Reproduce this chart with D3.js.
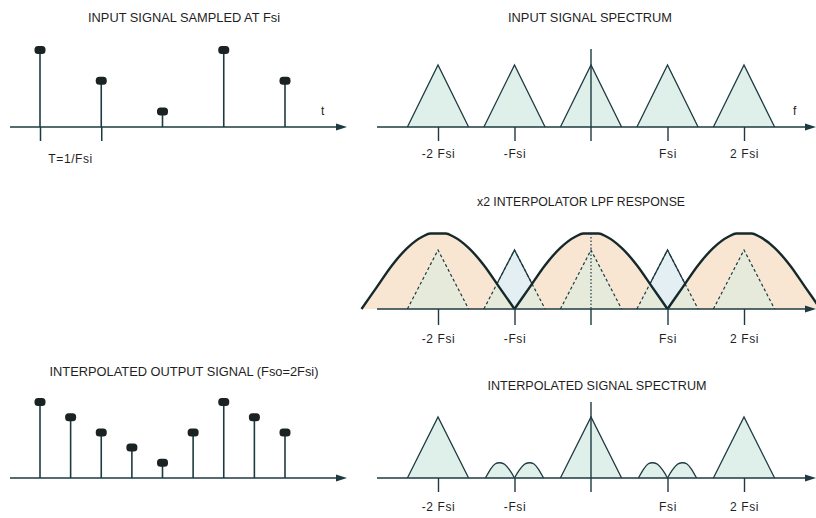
<!DOCTYPE html>
<html><head><meta charset="utf-8">
<script src="https://cdn.jsdelivr.net/npm/d3@7"></script>
<style>
html,body{margin:0;padding:0;background:#fff;}
svg{display:block;}
text{font-family:"Liberation Sans",Arial,sans-serif;fill:#1f1f1f;}
</style></head><body>
<svg id="chart" width="816" height="518"></svg>
<script>
// ---------------- data ----------------
const inputSamples  = [5, 3, 1, 5, 3];               // sampled at Fsi
const outputSamples = [5, 4, 3, 2, 1, 3, 5, 4, 3];   // x2 interpolated (Fso = 2Fsi)
const periodTicks   = [0, 1];                        // sample indices marking T
const spectrumCenters = [-2, -1, 0, 1, 2];           // spectral images, Fsi units
const passedCenters   = [-2, 0, 2];                  // images kept after x2 LPF
const rejectedCenters = [-1, 1];                     // images attenuated by LPF
const bandEdge = 0.4;                                // baseband half-width, Fsi units
const lpfCenters = [-2, 0, 2];
const lpfLobe = [[-1,0],[-0.8,0.29],[-0.6,0.58],[-0.4,0.81],[-0.2,0.96],[-0.1,1],
                 [0.1,1],[0.2,0.96],[0.4,0.81],[0.6,0.58],[0.8,0.29],[1,0]];
const lpfGain = 1.28;
const residualLeft  = [[-0.38,0],[-0.31,0.6],[-0.25,0.93],[-0.19,1],[-0.13,0.9],[-0.06,0.5],[0,0]];
const residualRight = [[0,0],[0.06,0.5],[0.13,0.9],[0.19,1],[0.25,0.93],[0.31,0.6],[0.38,0]];
const residualGain = 0.25;
const freqTicks = [-2, -1, 1, 2];
const freqTickLabels = ["-2 Fsi", "-Fsi", "Fsi", "2 Fsi"];
const titles = ["INPUT SIGNAL SAMPLED AT Fsi", "INPUT SIGNAL SPECTRUM",
                "x2 INTERPOLATOR LPF RESPONSE", "INTERPOLATED OUTPUT SIGNAL (Fso=2Fsi)",
                "INTERPOLATED SIGNAL SPECTRUM"];
const timeLabel = "t", freqLabel = "f", periodLabel = "T=1/Fsi";

// ---------------- layout / style ----------------
const INK = "#1d3a41", MARK = "#1b2224";
const TRI_FILL = "#dff0ea", BLUE_FILL = "#e3eff3", OVER_FILL = "#e6eadb", LPF_FILL = "#f8e5d2";
const svg = d3.select("#chart");

const xT = d3.scaleLinear().domain([0, 4]).range([40, 285]);
const yT1 = d3.scaleLinear().domain([0, 5]).range([127, 50]);
const yT2 = d3.scaleLinear().domain([0, 5]).range([478, 402]);
const xF = d3.scaleLinear().domain([-3, 3]).range([361.5, 820.5]);
const yF1 = d3.scaleLinear().domain([0, 1]).range([127, 65]);
const yF2 = d3.scaleLinear().domain([0, 1]).range([309, 250]);
const yF3 = d3.scaleLinear().domain([0, 1]).range([478, 417]);

const titleLayout = [[184,22,192],[590,22,164],[581,206,208],[184,376,269],[597,390,219]];
titles.forEach((t, i) => {
  const [x, y, w] = titleLayout[i];
  svg.append("text").attr("x", x).attr("y", y).attr("text-anchor", "middle")
    .attr("font-size", 13.5).attr("textLength", w).attr("lengthAdjust", "spacingAndGlyphs")
    .text(t);
});

function arrowAxis(x0, x1, y) {
  svg.append("line").attr("x1", x0).attr("x2", x1 - 9).attr("y1", y).attr("y2", y)
    .attr("stroke", INK).attr("stroke-width", 1.5);
  svg.append("path").attr("d", `M${x1-11},${y-3.5}L${x1},${y}L${x1-11},${y+3.5}Z`).attr("fill", INK);
}

function stems(data, xOf, y) {
  const g = svg.append("g");
  g.selectAll("line").data(data).join("line")
    .attr("x1", (d, i) => xOf(i)).attr("x2", (d, i) => xOf(i))
    .attr("y1", y(0)).attr("y2", d => y(d))
    .attr("stroke", INK).attr("stroke-width", 1.6);
  g.selectAll("rect").data(data).join("rect")
    .attr("x", (d, i) => xOf(i) - 5.5).attr("y", d => y(d) - 4)
    .attr("width", 11).attr("height", 8).attr("rx", 3.5)
    .attr("fill", MARK);
}

function freqAxis(y, tickLen, pad) {
  const ax = d3.axisBottom(xF).tickValues(freqTicks)
    .tickFormat((d, i) => freqTickLabels[i]).tickSize(tickLen).tickPadding(pad);
  const g = svg.append("g").attr("transform", `translate(0,${y})`).call(ax);
  g.select(".domain").remove();
  g.selectAll(".tick line").attr("stroke", INK).attr("stroke-width", 1.4);
  g.selectAll(".tick text").attr("font-size", 12).attr("letter-spacing", 0.6)
    .attr("fill", "#1f1f1f").attr("font-family", "Liberation Sans, Arial, sans-serif");
}

const tri = (y) => d3.line().x(d => xF(d[0])).y(d => y(d[1]));
const triPts = c => [[c - bandEdge, 0], [c, 1], [c + bandEdge, 0]];

// ---------- panel 1: input samples ----------
arrowAxis(10, 347, yT1(0));
{
  const ax = d3.axisBottom(xT).tickValues(periodTicks).tickFormat("").tickSize(14);
  const g = svg.append("g").attr("transform", `translate(0,${yT1(0)})`).call(ax);
  g.select(".domain").remove();
  g.selectAll(".tick line").attr("stroke", INK).attr("stroke-width", 1.5);
}
stems(inputSamples, i => xT(i), yT1);
svg.append("text").attr("x", xT(0.5)).attr("y", 163).attr("text-anchor", "middle")
  .attr("font-size", 12).attr("letter-spacing", 0.6).text(periodLabel);
svg.append("text").attr("x", 321).attr("y", 115).attr("font-size", 12).text(timeLabel);

// ---------- panel 2: input spectrum ----------
svg.append("g").selectAll("path").data(spectrumCenters).join("path")
  .attr("d", c => tri(yF1)(triPts(c)))
  .attr("fill", TRI_FILL).attr("stroke", INK).attr("stroke-width", 1.3).attr("stroke-linejoin", "miter");
arrowAxis(377, 816, yF1(0));
svg.append("line").attr("x1", xF(0)).attr("x2", xF(0)).attr("y1", 49).attr("y2", 141)
  .attr("stroke", INK).attr("stroke-width", 1.4);
freqAxis(yF1(0), 14, 8);
svg.append("text").attr("x", 793).attr("y", 115).attr("font-size", 12).text(freqLabel);

// ---------- panel 3: LPF response ----------
const lobeArea = c => d3.area().curve(d3.curveMonotoneX)
  .x(d => xF(c + d[0])).y0(yF2(0)).y1(d => yF2(lpfGain * d[1]))(lpfLobe);
const lobeLine = c => d3.line().curve(d3.curveMonotoneX)
  .x(d => xF(c + d[0])).y(d => yF2(lpfGain * d[1]))(lpfLobe);

const defs = svg.append("defs");
const clipIn = defs.append("clipPath").attr("id", "insideLpf");
lpfCenters.forEach(c => clipIn.append("path").attr("d", lobeArea(c)));
const mask = defs.append("mask").attr("id", "outsideLpf").attr("maskUnits", "userSpaceOnUse")
  .attr("x", 0).attr("y", 0).attr("width", 816).attr("height", 518);
mask.append("rect").attr("width", 816).attr("height", 518).attr("fill", "#fff");
lpfCenters.forEach(c => mask.append("path").attr("d", lobeArea(c)).attr("fill", "#000"));

const p3 = svg.append("g");
p3.selectAll("path.lobe").data(lpfCenters).join("path").attr("class", "lobe")
  .attr("d", lobeArea).attr("fill", LPF_FILL);
p3.append("g").selectAll("path").data(spectrumCenters).join("path")
  .attr("d", c => tri(yF2)(triPts(c))).attr("fill", BLUE_FILL);
p3.append("g").attr("clip-path", "url(#insideLpf)").selectAll("path").data(spectrumCenters).join("path")
  .attr("d", c => tri(yF2)(triPts(c))).attr("fill", OVER_FILL);
p3.append("g").selectAll("path").data(spectrumCenters).join("path")
  .attr("d", c => tri(yF2)(triPts(c))).attr("fill", "none")
  .attr("stroke", INK).attr("stroke-width", 1.2).attr("stroke-dasharray", "3,2.5");
p3.append("g").attr("mask", "url(#outsideLpf)").selectAll("path").data(rejectedCenters).join("path")
  .attr("d", c => tri(yF2)(triPts(c))).attr("fill", "none")
  .attr("stroke", INK).attr("stroke-width", 1.3);
p3.selectAll("path.lpf").data(lpfCenters).join("path").attr("class", "lpf")
  .attr("d", lobeLine).attr("fill", "none").attr("stroke", "#15282c").attr("stroke-width", 2.4);
arrowAxis(377, 816, yF2(0));
svg.append("line").attr("x1", xF(0)).attr("x2", xF(0)).attr("y1", yF2(lpfGain)).attr("y2", yF2(0))
  .attr("stroke", INK).attr("stroke-width", 1.2).attr("stroke-dasharray", "1.5,2");
svg.append("line").attr("x1", xF(0)).attr("x2", xF(0)).attr("y1", yF2(0)).attr("y2", yF2(0) + 16)
  .attr("stroke", INK).attr("stroke-width", 1.4);
freqAxis(yF2(0), 16, 9);

// ---------- panel 4: interpolated output ----------
arrowAxis(10, 347, yT2(0));
stems(outputSamples, i => xT(i / 2), yT2);

// ---------- panel 5: interpolated spectrum ----------
const hump = (c, pts) => d3.line().curve(d3.curveCardinal.tension(0.2))
  .x(d => xF(c + d[0])).y(d => yF3(residualGain * d[1]))(pts);
const p5 = svg.append("g");
p5.selectAll("path.main").data(passedCenters).join("path").attr("class", "main")
  .attr("d", c => tri(yF3)(triPts(c)))
  .attr("fill", TRI_FILL).attr("stroke", INK).attr("stroke-width", 1.3);
rejectedCenters.forEach(c => {
  [residualLeft, residualRight].forEach(pts => {
    p5.append("path").attr("d", hump(c, pts))
      .attr("fill", TRI_FILL).attr("stroke", INK).attr("stroke-width", 1.3);
  });
});
arrowAxis(377, 816, yF3(0));
svg.append("line").attr("x1", xF(0)).attr("x2", xF(0)).attr("y1", 402).attr("y2", 492)
  .attr("stroke", INK).attr("stroke-width", 1.4);
freqAxis(yF3(0), 14, 10);
</script>
</body></html>
